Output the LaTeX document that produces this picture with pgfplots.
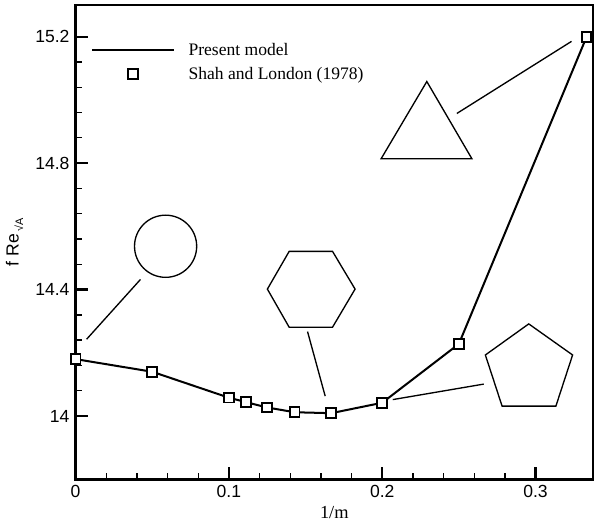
\documentclass[border=0pt]{standalone}
\usepackage{fontspec}
\setmainfont{Liberation Serif}
\newfontfamily\sansfont{Liberation Sans}
\usepackage{pgfplots}
\pgfplotsset{compat=1.18}
\pgfplotsset{
  mylineleg/.style={legend image code/.code={\draw[##1] (0pt,0pt) -- (48.6pt,0pt); \path (55pt,0pt);}},
  mymarkleg/.style={legend image code/.code={\draw[mark repeat=2,mark phase=2,##1] plot coordinates {(0pt,0pt) (24.3pt,0pt) (48.6pt,0pt)}; \path (55pt,0pt);}},
}
\pgfplotstableread{
x y
0 14.18
0.05 14.14
0.1 14.058
0.1111 14.044
0.125 14.027
0.1429 14.012
0.1667 14.009
0.2 14.042
0.25 14.228
0.3333 15.199
}\present
\pgfplotstableread{
x y
0 14.18
0.05 14.14
0.1 14.058
0.1111 14.044
0.125 14.027
0.1429 14.012
0.1667 14.009
0.2 14.042
0.25 14.228
0.3333 15.199
}\shah
\begin{document}
\fontsize{10.5}{12.6}\selectfont
\begin{tikzpicture}
\begin{axis}[
  scale only axis, width=309.6pt, height=283.8pt,
  xmin=0, xmax=0.3375, ymin=13.8, ymax=15.3,
  xtick={0,0.1,0.2,0.3}, ytick={14,14.4,14.8,15.2},
  minor x tick num=4, minor y tick num=4,
  tick align=inside, tick pos=left,
  major tick length=7.6pt, minor tick length=4pt,
  separate axis lines,
  axis line style={line width=1.5pt, line cap=rect},
  every tick/.style={black},
  major tick style={line width=1.3pt, black},
  minor tick style={line width=0.8pt, black},
  ticklabel style={font=\sansfont\fontsize{10.5}{12.6}\selectfont},
  /pgf/number format/assume math mode=true,
  xlabel={1/m},
  xlabel style={font=\fontsize{11}{13}\selectfont, yshift=2pt},
  ylabel={\sansfont f Re\,\raisebox{-0.5ex}{\fontsize{6.5}{7}\selectfont √A}},
  ylabel style={font=\fontsize{10.5}{12.6}\selectfont},
  legend style={draw=none, fill=none, at={(0.02,0.935)}, anchor=north west,
    font=\fontsize{10.5}{12.6}\selectfont, row sep=1.5pt, cells={anchor=west}},
]
\addplot[black, line width=1.2pt, mylineleg]
  table[x=x,y=y] {\present};
\addlegendentry{Present model}
\addplot[only marks, mark=square*, mark size=2.9pt,
  mark options={line width=1.1pt, draw=black, fill=white}, mymarkleg]
  table[x=x,y=y] {\shah};
\addlegendentry{Shah and London (1978)}
% shapes
\draw[line width=0.8pt] (axis cs:0.0587,14.537) circle [radius=18.6pt];
\draw[line width=0.8pt] (axis cs:0.0072,14.243) -- (axis cs:0.0423,14.432);
\draw[line width=0.8pt] (axis cs:0.1393,14.5207) -- (axis cs:0.1676,14.5207) -- (axis cs:0.1823,14.4015) -- (axis cs:0.1676,14.281) -- (axis cs:0.1393,14.281) -- (axis cs:0.1251,14.4015) -- cycle;
\draw[line width=0.8pt] (axis cs:0.1513,14.267) -- (axis cs:0.1628,14.063);
\draw[line width=0.8pt] (axis cs:0.2291,15.058) -- (axis cs:0.2585,14.8138) -- (axis cs:0.1993,14.8138) -- cycle;
\draw[line width=0.8pt] (axis cs:0.2487,14.957) -- (axis cs:0.3235,15.185);
\draw[line width=0.8pt] (axis cs:0.2956,14.2914) -- (axis cs:0.3242,14.1931) -- (axis cs:0.3133,14.0314) -- (axis cs:0.2782,14.0314) -- (axis cs:0.2673,14.1931) -- cycle;
\draw[line width=0.8pt] (axis cs:0.2069,14.052) -- (axis cs:0.2662,14.101);
\end{axis}
\path ([xshift=3.6pt]current axis.east);
\path ([yshift=3pt]current axis.north);
\end{tikzpicture}
\end{document}
